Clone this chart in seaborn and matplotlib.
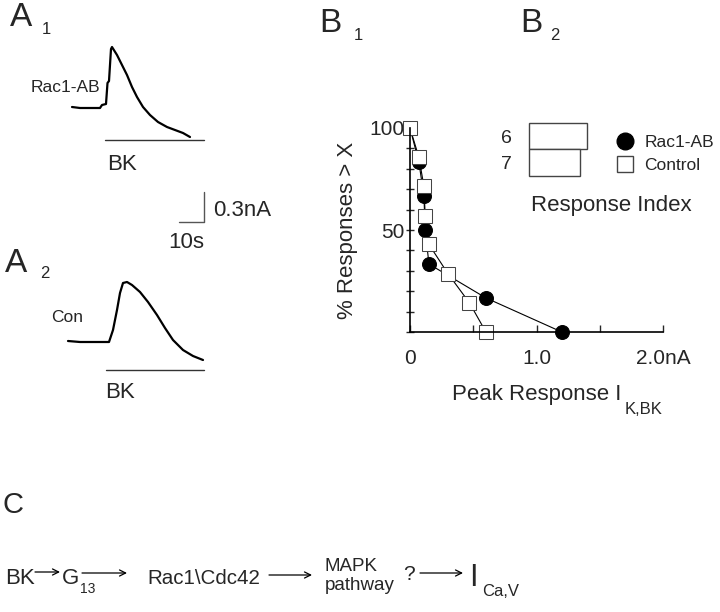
import numpy as np
import pandas as pd
import matplotlib
matplotlib.use("Agg")
import matplotlib.pyplot as plt
from matplotlib.lines import Line2D
import seaborn as sns

# --- data ---
# A1 trace (Rac1-AB), time in s, current in nA relative to baseline
a1_t = [0, 3.2, 7.2, 11.2, 12.0, 13.6, 14.2, 14.8, 15.6, 16.0, 18.0, 20.0, 22.0, 24.0,
        26.0, 28.4, 31.2, 34.4, 38.0, 41.2, 44.4, 47.2]
a1_i = [0, -0.01, -0.01, -0.01, 0.02, 0.03, 0.24, 0.26, 0.58, 0.60, 0.52, 0.42, 0.32, 0.20,
        0.10, 0.0, -0.08, -0.15, -0.20, -0.23, -0.26, -0.30]
# A2 trace (Con)
a2_t = [-1.6, 3.2, 9.2, 14.8, 16.4, 18.0, 19.2, 20.4, 22.0, 24.0, 27.2, 30.4, 34.0,
        37.2, 40.4, 44.4, 48.4, 52.4]
a2_i = [0.01, 0, 0, 0, 0.12, 0.32, 0.49, 0.59, 0.60, 0.57, 0.50, 0.40, 0.27,
        0.14, 0.02, -0.08, -0.14, -0.18]
bk_on = [13.2, 13.6]
bk_off = [52.8, 52.8]

# B1 cumulative distributions
rac_x = [0.0, 0.07, 0.11, 0.12, 0.15, 0.60, 1.20]
rac_y = [100, 83.3, 66.7, 50.0, 33.3, 16.7, 0]
con_x = [0.0, 0.07, 0.11, 0.12, 0.15, 0.30, 0.47, 0.60]
con_y = [100, 85.7, 71.4, 57.1, 42.9, 28.6, 14.3, 0]

# B2 response index
groups_n = ["6", "7"]
resp_index = [1.14, 1.0]

# C pathway
steps = ["BK", "G", "Rac1\\Cdc42", "MAPK\npathway", "I"]

sns.set_theme(style="white")
plt.rcParams["font.family"] = ["Liberation Sans", "DejaVu Sans"]

W, H = 720, 612
fig = plt.figure(figsize=(7.2, 6.12), dpi=100)

def box(x0, y0, x1, y1):
    return [x0 / W, 1 - y1 / H, (x1 - x0) / W, (y1 - y0) / H]

# overlay in pixel coordinates for labels
ov = fig.add_axes([0, 0, 1, 1])
ov.set_xlim(0, W)
ov.set_ylim(H, 0)
ov.axis("off")
ov.set_zorder(5)

# --- panel A ---
axA = fig.add_axes(box(0, 0, 240, 420))
axA.set_xlim(-28.8, 67.2)
axA.set_ylim(-3.13, 1.07)
axA.axis("off")
off2 = -2.35
sns.lineplot(x=a1_t, y=a1_i, ax=axA, color="black", lw=1.6, sort=False, estimator=None)
sns.lineplot(x=a2_t, y=np.array(a2_i) + off2, ax=axA, color="black", lw=1.6, sort=False, estimator=None)
axA.plot([bk_on[0], bk_off[0]], [-0.33, -0.33], color="#333", lw=1)
axA.plot([bk_on[1], bk_off[1]], [off2 - 0.28, off2 - 0.28], color="#333", lw=1)
# scale bar 10 s / 0.3 nA
axA.plot([42.8, 52.8, 52.8], [-1.15, -1.15, -0.85], color="#555", lw=1)

ov.text(21, 18, "A", fontsize=24, ha="center", va="center")
ov.text(46, 30, "1", fontsize=12, ha="center", va="center")
ov.text(16, 263, "A", fontsize=24, ha="center", va="center")
ov.text(45, 274, "2", fontsize=12, ha="center", va="center")
ov.text(100, 88, "Rac1-AB", fontsize=12.5, ha="right", va="center")
ov.text(83, 318, "Con", fontsize=12.5, ha="right", va="center")
ov.text(122, 164, "BK", fontsize=16, ha="center", va="center")
ov.text(120, 393, "BK", fontsize=16, ha="center", va="center")
ov.text(213, 210, "0.3nA", fontsize=16, ha="left", va="center")
ov.text(186, 243, "10s", fontsize=16, ha="center", va="center")

# --- panel B1 ---
ax = fig.add_axes(box(410, 128, 663, 332))
ax.patch.set_alpha(0)
sns.lineplot(x=rac_x, y=rac_y, ax=ax, color="black", lw=0.8, sort=False, estimator=None,
             marker="o", markersize=10, markerfacecolor="black", markeredgecolor="black",
             clip_on=False)
sns.lineplot(x=con_x, y=con_y, ax=ax, color="black", lw=0.8, sort=False, estimator=None,
             marker="s", markersize=10, markerfacecolor="white", markeredgecolor="#444",
             clip_on=False)
ax.set_xlim(0, 2.0)
ax.set_ylim(0, 100)
for s in ["top", "right"]:
    ax.spines[s].set_visible(False)
for s in ["left", "bottom"]:
    ax.spines[s].set_color("black")
    ax.spines[s].set_linewidth(1.2)
ax.set_yticks(range(0, 101, 10))
ax.set_yticklabels(["50" if v == 50 else "100" if v == 100 else "" for v in range(0, 101, 10)])
ax.set_xticks([0, 0.5, 1.0, 1.5, 2.0])
ax.set_xticklabels(["0", "", "1.0", "", "2.0nA"])
ax.tick_params(axis="y", direction="inout", length=6, width=1, pad=1, labelsize=15, left=True)
ax.tick_params(axis="x", direction="in", length=5, width=1, pad=12, labelsize=15, bottom=True)
ax.set_ylabel("% Responses > X", fontsize=16, labelpad=8)
ax.set_xlabel("Peak Response I", fontsize=16, labelpad=12)
ov.text(625, 409, "K,BK", fontsize=12, ha="left", va="center")

ov.text(330, 23, "B", fontsize=24, ha="center", va="center")
ov.text(358, 36, "1", fontsize=12, ha="center", va="center")
ov.text(531, 23, "B", fontsize=24, ha="center", va="center")
ov.text(555, 36, "2", fontsize=12, ha="center", va="center")

# --- panel B2 ---
ax2 = fig.add_axes(box(529, 123, 529 + 61, 176))
ax2.patch.set_alpha(0)
sns.barplot(x=resp_index, y=groups_n, orient="h", ax=ax2, width=1.0,
            facecolor="white", edgecolor="#444", linewidth=1)
ax2.set_xlim(0, 1.2)
for p in ax2.patches:
    p.set_clip_on(False)
for s in ax2.spines.values():
    s.set_visible(False)
ax2.set_xticks([])
ax2.set_xlabel("")
ax2.set_ylabel("")
ax2.tick_params(axis="y", length=0, pad=12, labelsize=14)

handles = [Line2D([], [], ls="none", marker="o", markersize=12, color="black"),
           Line2D([], [], ls="none", marker="s", markersize=11, markerfacecolor="white",
                  markeredgecolor="#444")]
fig.legend(handles, ["Rac1-AB", "Control"], loc="upper left",
           bbox_to_anchor=(608 / W, 1 - 126 / H), frameon=False, fontsize=12.5,
           handlelength=1.0, handletextpad=0.6, labelspacing=0.45, borderpad=0)
ov.text(611, 206, "Response Index", fontsize=16, ha="center", va="center")

# --- panel C ---
ov.text(3, 505, "C", fontsize=21, ha="left", va="center")
ov.text(5, 578, steps[0], fontsize=16, ha="left", va="center")
ov.text(62, 578, steps[1], fontsize=16, ha="left", va="center")
ov.text(80, 589, "13", fontsize=10, ha="left", va="center")
ov.text(147, 578, steps[2], fontsize=14.8, ha="left", va="center")
ov.text(325, 576, steps[3], fontsize=13.5, ha="left", va="center", linespacing=1.15)
ov.text(403, 575, "?", fontsize=15, ha="left", va="center")
ov.text(469, 578, steps[4], fontsize=22, ha="left", va="center")
ov.text(482, 592, "Ca,V", fontsize=12, ha="left", va="center")
for x0, x1, y in [(35, 60, 572), (82, 127, 573), (269, 312, 575), (420, 463, 573)]:
    ov.annotate("", xy=(x1, y), xytext=(x0, y),
                arrowprops=dict(arrowstyle="->", lw=0.9, color="black",
                                shrinkA=0, shrinkB=0, mutation_scale=11))

fig.savefig("out.png", dpi=100)
